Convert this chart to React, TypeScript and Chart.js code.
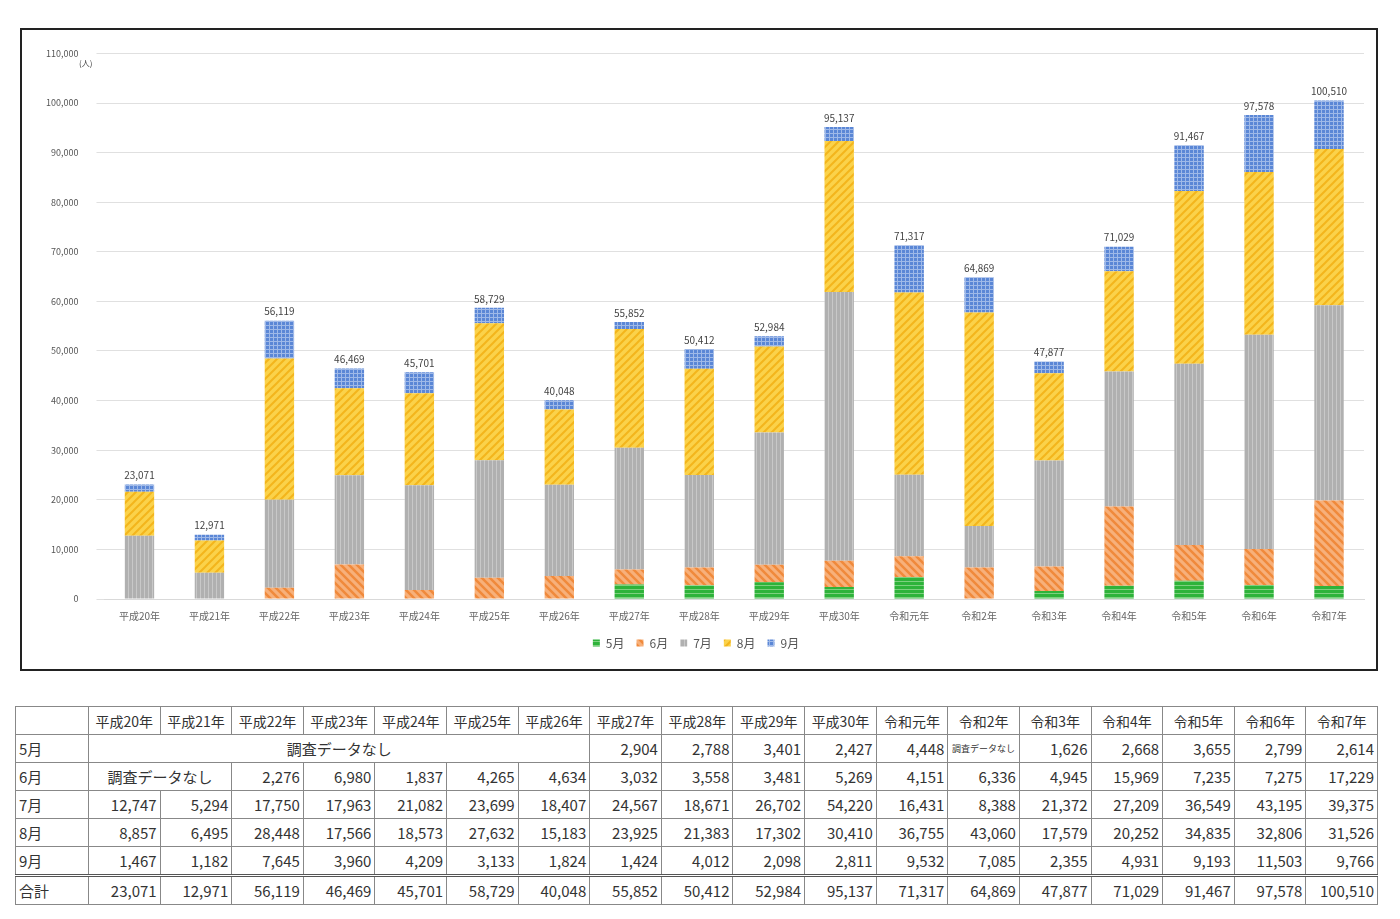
import React, { useEffect, useRef } from "react";
import { Chart, registerables } from "chart.js";
Chart.register(...registerables);

const years = ["平成20年","平成21年","平成22年","平成23年","平成24年","平成25年","平成26年","平成27年","平成28年","平成29年","平成30年","令和元年","令和2年","令和3年","令和4年","令和5年","令和6年","令和7年"];
const may = [null,null,null,null,null,null,null,2904,2788,3401,2427,4448,null,1626,2668,3655,2799,2614];
const jun = [null,null,2276,6980,1837,4265,4634,3032,3558,3481,5269,4151,6336,4945,15969,7235,7275,17229];
const jul = [12747,5294,17750,17963,21082,23699,18407,24567,18671,26702,54220,16431,8388,21372,27209,36549,43195,39375];
const aug = [8857,6495,28448,17566,18573,27632,15183,23925,21383,17302,30410,36755,43060,17579,20252,34835,32806,31526];
const sep = [1467,1182,7645,3960,4209,3133,1824,1424,4012,2098,2811,9532,7085,2355,4931,9193,11503,9766];
const totals = [23071,12971,56119,46469,45701,58729,40048,55852,50412,52984,95137,71317,64869,47877,71029,91467,97578,100510];
const monthLabels = ["5月","6月","7月","8月","9月"];

const FONT = "'Noto Sans CJK JP', 'Noto Sans', sans-serif";

function makePattern(kind: string): CanvasPattern | string {
  const c = document.createElement("canvas");
  c.width = 8; c.height = 8;
  const g = c.getContext("2d")!;
  if (kind === "green") {
    g.fillStyle = "#2eb33a"; g.fillRect(0, 0, 8, 8);
    g.fillStyle = "#7ed07f"; g.fillRect(0, 3, 8, 1); g.fillRect(0, 7, 8, 1);
  } else if (kind === "orange") {
    g.fillStyle = "#f7b07a"; g.fillRect(0, 0, 8, 8);
    g.strokeStyle = "#f08a3c"; g.lineWidth = 2.5;
    g.beginPath(); g.moveTo(0, 0); g.lineTo(8, 8); g.moveTo(-4, 4); g.lineTo(4, 12); g.moveTo(4, -4); g.lineTo(12, 4); g.stroke();
  } else if (kind === "gray") {
    g.fillStyle = "#b0b0b0"; g.fillRect(0, 0, 8, 8);
    g.fillStyle = "#c8c8c8"; g.fillRect(2, 0, 1, 8); g.fillRect(6, 0, 1, 8);
  } else if (kind === "yellow") {
    g.fillStyle = "#fbd24a"; g.fillRect(0, 0, 8, 8);
    g.strokeStyle = "#f3b51c"; g.lineWidth = 2;
    g.beginPath(); g.moveTo(0, 8); g.lineTo(8, 0); g.moveTo(-4, 4); g.lineTo(4, -4); g.moveTo(4, 12); g.lineTo(12, 4); g.stroke();
  } else {
    g.fillStyle = "#5b87d6"; g.fillRect(0, 0, 8, 8);
    g.fillStyle = "#9fb9e8"; g.fillRect(0, 3, 8, 1); g.fillRect(3, 0, 1, 8); g.fillRect(0, 7, 8, 1); g.fillRect(7, 0, 1, 8);
  }
  return g.createPattern(c, "repeat")!;
}

const totalsPlugin = {
  id: "totals",
  afterDatasetsDraw(chart: any) {
    const ctx = chart.ctx;
    const y = chart.scales.y;
    const x = chart.scales.x;
    ctx.save();
    ctx.font = `10px ${FONT}`;
    ctx.fillStyle = "#444";
    ctx.textAlign = "center";
    ctx.textBaseline = "bottom";
    totals.forEach((t, i) => {
      ctx.fillText(t.toLocaleString("en-US"), x.getPixelForValue(i), y.getPixelForValue(t) - 4);
    });
    ctx.textAlign = "right";
    ctx.textBaseline = "middle";
    ctx.font = `8px ${FONT}`;
    ctx.fillText("(人)", x.left - 12, y.getPixelForValue(110000) + 10);
    ctx.restore();
  },
};

function ChartBox() {
  const ref = useRef<HTMLCanvasElement>(null);
  useEffect(() => {
    const kinds = ["green", "orange", "gray", "yellow", "blue"];
    const series = [may, jun, jul, aug, sep];
    const chart = new Chart(ref.current!, {
      type: "bar",
      data: {
        labels: years,
        datasets: series.map((d, i) => ({
          label: monthLabels[i],
          data: d as any,
          backgroundColor: makePattern(kinds[i]) as any,
          barPercentage: 0.42,
          categoryPercentage: 1,
        })),
      },
      options: {
        animation: false,
        responsive: false,
        layout: { padding: { top: 10, right: 12, left: 6, bottom: 10 } },
        plugins: {
          legend: {
            position: "bottom",
            labels: { boxWidth: 7, boxHeight: 7, font: { size: 12, family: FONT }, color: "#555", padding: 12 },
          },
          tooltip: { enabled: false },
        },
        scales: {
          x: {
            stacked: true,
            grid: { display: false },
            border: { color: "#d9d9d9" },
            ticks: { font: { size: 10, family: FONT }, color: "#666", maxRotation: 0 },
          },
          y: {
            stacked: true,
            min: 0, max: 110000,
            border: { display: false },
            grid: { color: "#e0e0e0" },
            ticks: {
              stepSize: 10000,
              font: { size: 9, family: FONT }, color: "#555",
              padding: 18,
              callback: (v: any) => Number(v).toLocaleString("en-US"),
            },
          },
        },
      },
      plugins: [totalsPlugin],
    });
    return () => chart.destroy();
  }, []);
  return <canvas ref={ref} width={1354} height={639} style={{ display: "block" }} />;
}

const cell: React.CSSProperties = { border: "1px solid #888", padding: "0 3px", textAlign: "right", height: 27, fontSize: 15, color: "#333" };
const fmt = (v: number | null) => (v == null ? "" : v.toLocaleString("en-US"));

function DataTable() {
  const rows = [may, jun, jul, aug, sep];
  return (
    <table style={{ borderCollapse: "collapse", width: 1363, tableLayout: "fixed", fontFamily: FONT }}>
      <colgroup>
        <col style={{ width: 73 }} />
        {years.map((y) => <col key={y} />)}
      </colgroup>
      <tbody>
        <tr>
          <td style={cell}></td>
          {years.map((y) => <td key={y} style={{ ...cell, textAlign: "center", fontSize: 14 }}>{y}</td>)}
        </tr>
        {rows.map((r, ri) => {
          const tds: React.ReactNode[] = [];
          tds.push(<td key="h" style={{ ...cell, textAlign: "left" }}>{monthLabels[ri]}</td>);
          if (ri === 0) {
            tds.push(<td key="n" colSpan={7} style={{ ...cell, textAlign: "center" }}>調査データなし</td>);
            for (let i = 7; i < 18; i++) {
              if (r[i] == null) tds.push(<td key={i} style={{ ...cell, fontSize: 9, textAlign: "center" }}>調査データなし</td>);
              else tds.push(<td key={i} style={cell}>{fmt(r[i])}</td>);
            }
          } else if (ri === 1) {
            tds.push(<td key="n" colSpan={2} style={{ ...cell, textAlign: "center" }}>調査データなし</td>);
            for (let i = 2; i < 18; i++) tds.push(<td key={i} style={cell}>{fmt(r[i])}</td>);
          } else {
            for (let i = 0; i < 18; i++) tds.push(<td key={i} style={cell}>{fmt(r[i])}</td>);
          }
          return <tr key={ri}>{tds}</tr>;
        })}
        <tr>
          <td style={{ ...cell, textAlign: "left", borderTop: "3px double #555" }}>合計</td>
          {totals.map((t, i) => <td key={i} style={{ ...cell, borderTop: "3px double #555" }}>{fmt(t)}</td>)}
        </tr>
      </tbody>
    </table>
  );
}

export default function App() {
  return (
    <div style={{ position: "absolute", left: 0, top: 0, width: 1400, height: 919, background: "#fff" }}>
      <div style={{ position: "absolute", left: 20, top: 28, width: 1354, height: 639, border: "2px solid #222" }}>
        <ChartBox />
      </div>
      <div style={{ position: "absolute", left: 15, top: 706 }}>
        <DataTable />
      </div>
    </div>
  );
}
